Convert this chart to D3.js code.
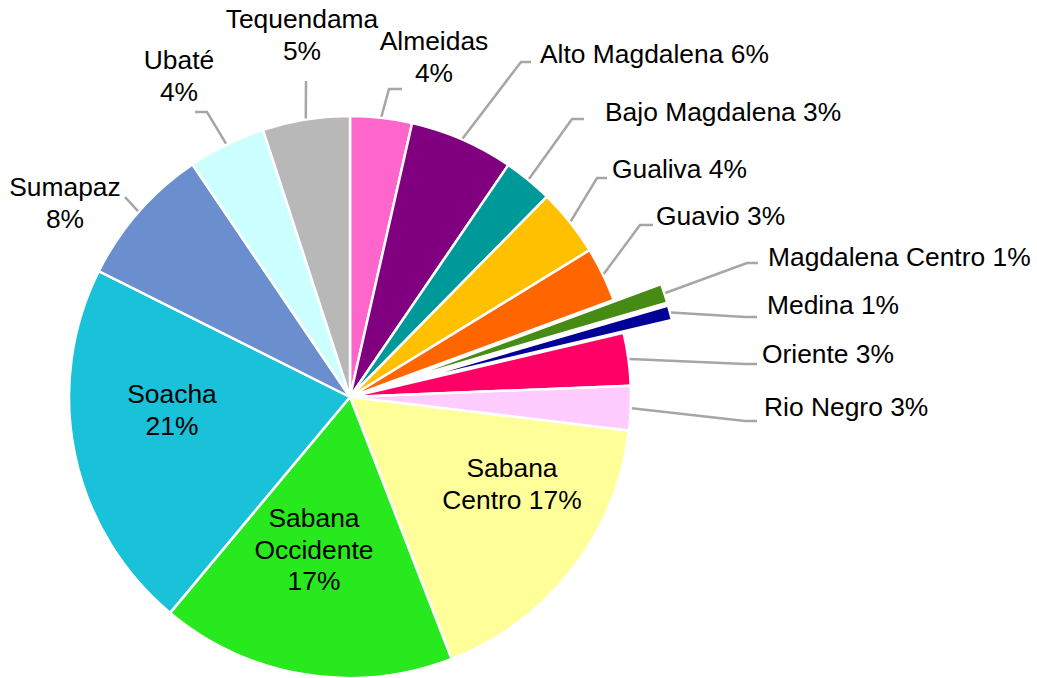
<!DOCTYPE html>
<html>
<head>
  <script src="https://d3js.org/d3.v7.min.js"></script>
  <style>
    body { margin: 0; padding: 0; background: white; overflow: hidden; }
    svg { display: block; }
  </style>
</head>
<body>
  <svg width="1037" height="678"></svg>

  <script>
    // regions and share of total
    const regions = ["Almeidas", "Alto Magdalena", "Bajo Magdalena", "Gualiva", "Guavio",
      "Magdalena Centro", "Medina", "Oriente", "Rio Negro", "Sabana Centro",
      "Sabana Occidente", "Soacha", "Sumapaz", "Ubaté", "Tequendama"];
    const shares = [3.55, 5.98, 2.83, 3.89, 3.13, 1.10, 0.85, 3.03, 2.55, 17.20,
      16.95, 21.33, 8.13, 4.47, 5.01];
    const colors = ["#FF66CC", "#800080", "#009999", "#FFC000", "#FF6600",
      "#458B14", "#000099", "#FF0066", "#FFCCFF", "#FFFF99",
      "#27E91D", "#19C1D9", "#6A8ECE", "#CCFFFF", "#B8B8B8"];
    const exploded = ["Magdalena Centro", "Medina"];

    // label placement: first baseline, anchor, text template ("|" = new line), leader elbow/end
    const labelLayout = [
      { x: 434, y: 50,  anchor: "middle", text: "Almeidas|{p}",        leader: [[389, 89], [402, 89]] },
      { x: 540, y: 63,  anchor: "start",  text: "Alto Magdalena {p}",  leader: [[521, 62], [531, 62]] },
      { x: 605, y: 121, anchor: "start",  text: "Bajo Magdalena {p}",  leader: [[572, 119], [584, 119]] },
      { x: 612, y: 178, anchor: "start",  text: "Gualiva {p}",         leader: [[597, 178], [607, 178]] },
      { x: 656, y: 225, anchor: "start",  text: "Guavio {p}",          leader: [[640, 225], [653, 225]] },
      { x: 768, y: 266, anchor: "start",  text: "Magdalena Centro {p}", leader: [[747, 263], [758, 263]] },
      { x: 767, y: 314, anchor: "start",  text: "Medina {p}",          leader: [[745, 317], [757, 317]] },
      { x: 762, y: 363, anchor: "start",  text: "Oriente {p}",         leader: [[745, 364], [757, 364]] },
      { x: 764, y: 416, anchor: "start",  text: "Rio Negro {p}",       leader: [[745, 421], [757, 421]] },
      { x: 512, y: 477, anchor: "middle", text: "Sabana|Centro {p}",   leader: null },
      { x: 314, y: 527, anchor: "middle", text: "Sabana|Occidente|{p}", leader: null },
      { x: 172, y: 403, anchor: "middle", text: "Soacha|{p}",          leader: null },
      { x: 65,  y: 196, anchor: "middle", text: "Sumapaz|{p}",         leader: [[125, 197]] },
      { x: 179, y: 69,  anchor: "middle", text: "Ubaté|{p}",           leader: [[207, 112], [195, 112]] },
      { x: 302, y: 28,  anchor: "middle", text: "Tequendama|{p}",      leader: [[306, 81]] }
    ];

    const svg = d3.select("svg"),
          cx = 350, cy = 397, radius = 281, explodeBy = 50,
          lineHeight = 31.5;

    const data = regions.map((r, i) => ({ name: r, value: shares[i], color: colors[i], layout: labelLayout[i] }));
    const total = d3.sum(shares);

    const pie = d3.pie().sort(null).value(d => d.value);
    const arc = d3.arc().innerRadius(0).outerRadius(radius);
    const arcs = pie(data);

    const g = svg.append("g").attr("transform", "translate(" + cx + "," + cy + ")");

    const midAngle = d => (d.startAngle + d.endAngle) / 2;
    const offset = d => exploded.includes(d.data.name) ? explodeBy : 0;

    g.selectAll(".slice")
      .data(arcs)
      .enter().append("path")
        .attr("class", "slice")
        .attr("d", arc)
        .attr("transform", d => {
          const a = midAngle(d), o = offset(d);
          return "translate(" + (o * Math.sin(a)) + "," + (-o * Math.cos(a)) + ")";
        })
        .attr("fill", d => d.data.color)
        .attr("stroke", "white")
        .attr("stroke-width", 2.5)
        .attr("stroke-linejoin", "round");

    // leader lines
    const line = d3.line();
    svg.selectAll(".leader")
      .data(arcs.filter(d => d.data.layout.leader))
      .enter().append("path")
        .attr("class", "leader")
        .attr("d", d => {
          const a = midAngle(d), r = radius + offset(d) + 1;
          const start = [cx + r * Math.sin(a), cy - r * Math.cos(a)];
          return line([start].concat(d.data.layout.leader));
        })
        .attr("fill", "none")
        .attr("stroke", "#A6A6A6")
        .attr("stroke-width", 2.5);

    // labels
    const labels = svg.selectAll(".label")
      .data(arcs)
      .enter().append("text")
        .attr("class", "label")
        .attr("x", d => d.data.layout.x)
        .attr("y", d => d.data.layout.y)
        .attr("text-anchor", d => d.data.layout.anchor)
        .attr("font-family", "'Liberation Sans', Arial, sans-serif")
        .attr("font-size", "26.4px")
        .attr("fill", "black");

    labels.each(function(d) {
      const pct = Math.round(d.data.value * 100 / total) + "%";
      const lines = d.data.layout.text.replace("{p}", pct).split("|");
      d3.select(this).selectAll("tspan")
        .data(lines)
        .enter().append("tspan")
          .attr("x", d.data.layout.x)
          .attr("dy", (l, i) => i === 0 ? 0 : lineHeight)
          .text(l => l);
    });
  </script>
</body>
</html>
